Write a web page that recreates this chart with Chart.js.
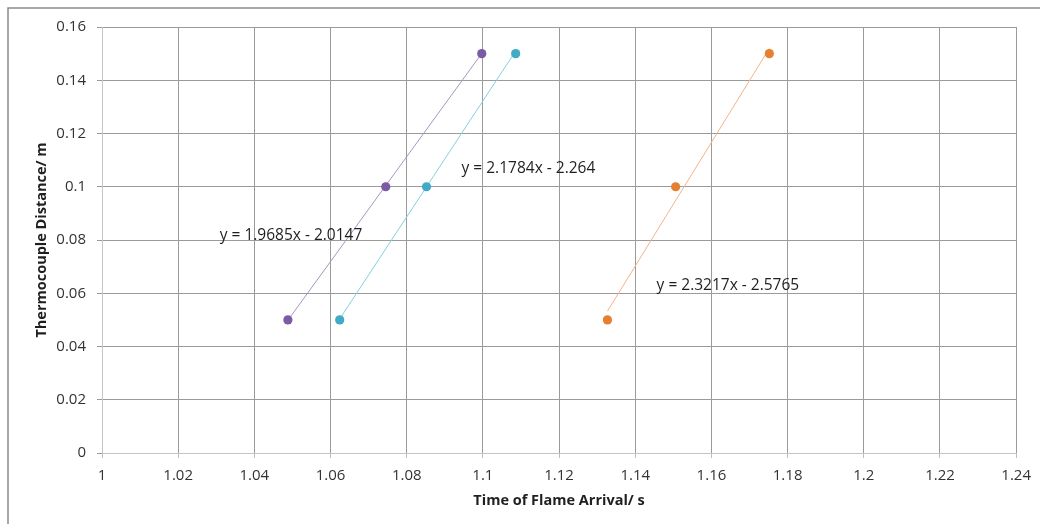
<!DOCTYPE html>
<html>
<head>
<meta charset="utf-8">
<script src="https://cdn.jsdelivr.net/npm/chart.js@4"></script>
<style>
  html, body { margin: 0; padding: 0; background: #fff; }
  #wrap { width: 1040px; height: 524px; }
</style>
</head>
<body>
<div id="wrap"><canvas id="flameChart" width="1040" height="524"></canvas></div>
<script>
// measured points (time of flame arrival, thermocouple distance)
const distances = [0.05, 0.1, 0.15];
const timesPurple = [1.0488, 1.0745, 1.0997];
const timesTeal = [1.0624, 1.0852, 1.1086];
const timesOrange = [1.1327, 1.1506, 1.1752];

// trendline fits as shown on the chart
const slopes = [1.9685, 2.1784, 2.3217];
const intercepts = [-2.0147, -2.264, -2.5765];
const equations = ["y = 1.9685x - 2.0147", "y = 2.1784x - 2.264", "y = 2.3217x - 2.5765"];

const xTicks = [1, 1.02, 1.04, 1.06, 1.08, 1.1, 1.12, 1.14, 1.16, 1.18, 1.2, 1.22, 1.24];
const xTickLabels = ["1", "1.02", "1.04", "1.06", "1.08", "1.1", "1.12", "1.14", "1.16", "1.18", "1.2", "1.22", "1.24"];
const yTicks = [0, 0.02, 0.04, 0.06, 0.08, 0.1, 0.12, 0.14, 0.16];
const yTickLabels = ["0", "0.02", "0.04", "0.06", "0.08", "0.1", "0.12", "0.14", "0.16"];

const series = [timesPurple, timesTeal, timesOrange];
const pointColors = ["#7b5aa6", "#3fabc6", "#e57f32"];
const lineColors = ["#a995c2", "#86cfe0", "#f3b488"];
// where each equation label sits, in data units
const labelAt = [{ x: 1.0309, y: 0.0815 }, { x: 1.0944, y: 0.1067 }, { x: 1.1456, y: 0.0627 }];

const FONT = "'Open Sans', 'Liberation Sans', sans-serif";

const datasets = [];
series.forEach((times, i) => {
  const lo = Math.min(...times), hi = Math.max(...times);
  datasets.push({
    label: "trend " + i,
    data: [lo, hi].map(x => ({ x: x, y: slopes[i] * x + intercepts[i] })),
    showLine: true,
    borderColor: lineColors[i],
    borderWidth: 1,
    pointRadius: 0,
    order: 2
  });
  datasets.push({
    label: "series " + i,
    data: times.map((t, k) => ({ x: t, y: distances[k] })),
    backgroundColor: pointColors[i],
    borderWidth: 0,
    pointRadius: 4.6,
    order: 1
  });
});

const frame = {
  id: "frame",
  beforeDraw(chart) {
    const ctx = chart.ctx;
    ctx.save();
    ctx.fillStyle = "#fff";
    ctx.fillRect(0, 0, chart.width, chart.height);
    ctx.strokeStyle = "#8a8a8a";
    ctx.lineWidth = 1.5;
    ctx.beginPath();
    ctx.moveTo(8, chart.height);
    ctx.lineTo(8, 8);
    ctx.lineTo(chart.width, 8);
    ctx.stroke();
    ctx.restore();
  }
};

const eqLabels = {
  id: "eqLabels",
  afterDatasetsDraw(chart) {
    const ctx = chart.ctx;
    const xs = chart.scales.x, ys = chart.scales.y;
    ctx.save();
    ctx.font = "15.5px " + FONT;
    ctx.fillStyle = "#1f1f1f";
    ctx.textAlign = "left";
    ctx.textBaseline = "middle";
    equations.forEach((txt, i) => {
      ctx.fillText(txt, xs.getPixelForValue(labelAt[i].x), ys.getPixelForValue(labelAt[i].y));
    });
    ctx.restore();
  }
};

new Chart(document.getElementById("flameChart").getContext("2d"), {
  type: "scatter",
  data: { datasets: datasets },
  plugins: [frame, eqLabels],
  options: {
    responsive: false,
    animation: false,
    layout: { padding: { left: 0, right: 23, top: 27, bottom: 0 } },
    plugins: { legend: { display: false }, tooltip: { enabled: false } },
    scales: {
      x: {
        type: "linear",
        min: 1,
        max: 1.24,
        afterBuildTicks: s => { s.ticks = xTicks.map(v => ({ value: v })); },
        afterFit: s => { s.height = 71; },
        ticks: {
          callback: (v, i) => xTickLabels[i],
          color: "#333333",
          font: { family: FONT, size: 15 },
          padding: 9,
          maxRotation: 0,
          autoSkip: false
        },
        grid: { color: "#9b9b9b", tickColor: "#bdbdbd", tickLength: 5 },
        border: { color: "#c4c4c4" },
        title: {
          display: true,
          text: "Time of Flame Arrival/ s",
          color: "#1f1f1f",
          font: { family: FONT, size: 14.5, weight: "bold" },
          padding: { top: 0, bottom: 14 }
        }
      },
      y: {
        type: "linear",
        min: 0,
        max: 0.16,
        afterBuildTicks: s => { s.ticks = yTicks.map(v => ({ value: v })); },
        afterFit: s => { s.width = 102; },
        ticks: {
          callback: (v, i) => yTickLabels[i],
          color: "#333333",
          font: { family: FONT, size: 15 },
          padding: 11,
          autoSkip: false
        },
        grid: { color: "#9b9b9b", tickColor: "#9b9b9b", tickLength: 5 },
        border: { color: "#c4c4c4" },
        title: {
          display: true,
          text: "Thermocouple Distance/ m",
          color: "#1f1f1f",
          font: { family: FONT, size: 14.5, weight: "bold" },
          padding: { top: 33, bottom: 0 }
        }
      }
    }
  }
});
</script>
</body>
</html>
